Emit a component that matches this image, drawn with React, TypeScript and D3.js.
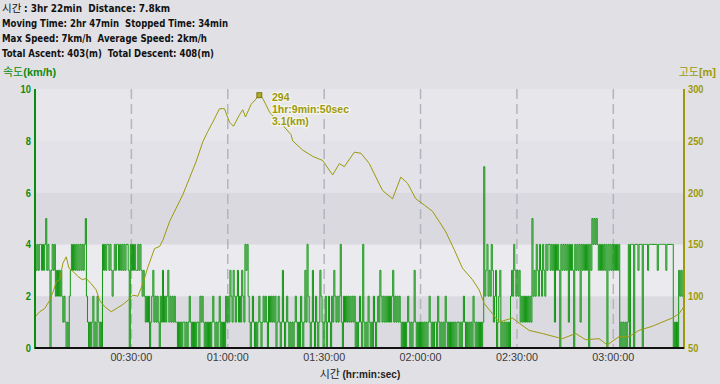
import React from "react";
import * as d3 from "d3";

// ---- data ----
const headerLines = [
  ": 3hr 22min  Distance: 7.8km",
  "Moving Time: 2hr 47min  Stopped Time: 34min",
  "Max Speed: 7km/h  Average Speed: 2km/h",
  "Total Ascent: 403(m)  Total Descent: 408(m)",
];
const headerKo = "시간";
const speedTicks = [0, 2, 4, 6, 8, 10];
const elevTicks = [50, 100, 150, 200, 250, 300];
const timeTicks = [30, 60, 90, 120, 150, 180];
const timeTickLabels = ["00:30:00", "01:00:00", "01:30:00", "02:00:00", "02:30:00", "03:00:00"];
const totalMinutes = 202;
const sampleSeconds = 20;

// speed samples (km/h), one per 20 s
const speed = [
  4,3,4,3,4,4,3,4,3,4,5,3,4,3,0,3,4,3,4,2,
  3,2,3,2,3,2,1,2,1,0,1,0,2,3,4,3,4,3,4,3,
  4,3,4,3,4,3,4,5,2,1,0,1,0,1,2,0,1,0,2,1,
  0,1,0,4,3,4,3,4,4,3,4,3,2,3,4,3,4,4,3,4,
  3,4,3,4,3,4,4,3,0,4,3,4,3,4,3,3,4,3,4,3,
  2,3,2,1,2,1,2,0,1,2,3,1,2,1,2,1,0,2,1,3,
  1,2,1,2,3,1,2,1,2,1,2,1,1,0,1,0,1,0,1,1,
  0,1,0,1,2,1,0,1,0,1,0,1,1,0,2,1,2,1,0,1,
  0,1,0,1,0,1,2,1,0,1,0,1,2,0,1,0,1,0,2,1,
  2,1,3,2,1,3,2,1,2,3,1,2,1,3,2,1,4,3,4,2,
  1,0,1,2,1,0,1,0,1,2,1,0,1,2,1,2,1,0,2,1,
  2,1,2,1,2,0,1,2,1,0,1,3,1,0,1,2,1,0,1,0,
  1,0,1,2,1,0,1,0,2,1,0,1,3,1,4,2,1,0,1,3,
  1,0,2,1,0,1,3,2,1,0,1,2,0,1,2,1,0,2,1,3,
  2,1,2,1,2,4,1,0,2,1,2,1,2,1,2,1,2,1,2,0,
  1,0,1,2,1,0,4,1,0,1,0,2,1,0,1,0,2,1,0,1,
  2,1,3,2,1,2,1,2,1,2,1,2,1,2,3,1,2,1,2,1,
  2,1,0,1,0,1,0,1,2,1,0,1,0,1,3,1,0,1,0,1,
  0,1,0,1,0,1,0,1,2,1,0,1,0,1,1,0,2,1,0,1,
  0,1,0,2,1,0,1,0,1,0,1,0,1,0,1,1,0,1,0,1,
  2,1,0,1,0,1,0,1,0,2,1,0,1,0,1,0,1,0,1,7,
  2,3,4,2,3,2,4,3,1,2,3,0,1,2,3,0,1,0,1,0,
  1,0,1,0,2,3,2,4,3,2,3,2,3,1,2,1,2,1,2,1,
  2,1,2,1,5,2,3,2,4,3,2,4,3,2,4,3,2,4,3,4,
  4,3,4,3,4,1,4,3,4,3,0,4,3,4,3,4,3,4,1,4,
  3,4,3,0,4,3,4,3,4,1,4,3,4,3,4,3,4,0,4,3,
  5,4,5,4,5,4,3,4,3,4,3,4,3,4,0,4,3,4,3,4,
  3,4,3,4,3,4,0,1,0,1,0,1,0,1,4,0,4,4,4,0,
  4,4,4,3,4,4,4,0,4,4,4,4,3,4,4,4,4,4,4,4,
  4,3,4,4,4,4,4,4,4,3,4,4,4,4,4,4,0,1,0,1,
  0,3,2,3,2,3,
];

// elevation profile: time (min) and altitude (m)
const elevTime = [
  0, 1.46, 3.02, 4.57, 5.6, 6.62, 7.68, 8.7, 9.73, 10.57, 11.81, 13.37, 14.7, 15.95, 17.5, 19.06,
  20.1, 21.67, 23.72, 25.27, 27.36, 28.91, 30.47, 32.02, 33.57, 35.13, 37.21, 38.77, 39.8, 41.88,
  43.93, 46.01, 48.09, 50.15, 52.23, 53.78, 55.34, 57.42, 58.97, 60.53, 61.77, 63.64, 64.66, 65.5,
  67.24, 69.83, 70.88, 72.96, 74.52, 77.1, 79.68, 80.2, 83.32, 86.42, 89.53, 92.64, 94.72, 96.28,
  99.39, 101.44, 104.05, 106.1, 108.18, 111.29, 113.87, 115.95, 118.53, 121.15, 123.73, 125.81,
  127.87, 130.48, 133.05, 136.16, 138.25, 139.8, 141.36, 144.47, 148.6, 150.69, 153.79, 157.93,
  161.57, 164.15, 168.28, 171.39, 175.56, 178.14, 181.78, 184.88, 187.99, 192.13, 195.24, 198.35,
  200.43, 202,
];
const elevM = [
  80, 85, 88, 96, 104, 114, 116, 132, 138, 127, 124, 119, 116, 117, 112, 106,
  96, 90, 85, 88, 92, 96, 101, 100, 112, 128, 146, 148, 154, 172,
  185, 198, 214, 230, 249, 259, 268, 281, 281, 268, 264, 275, 280, 273,
  285, 294, 291, 278, 272, 265, 256, 250, 241, 235, 231, 217, 228, 225,
  239, 238, 228, 215, 202, 194, 215, 209, 194, 188, 182, 172,
  162, 145, 127, 116, 106, 93, 87, 75, 79, 74, 67, 64,
  61, 59, 64, 58, 59, 53, 61, 61, 67, 71, 75, 79,
  83, 90,
];
const peakTime = 69.83;
const peakElev = 294;
const peakLabels = ["294", "1hr:9min:50sec", "3.1(km)"];

export default function App() {
  const W = 720, H = 384;
  const left = 35, right = 684, top = 89, bottom = 348;
  const x = d3.scaleLinear().domain([0, totalMinutes]).range([left, right]);
  const yS = d3.scaleLinear().domain([0, 10]).range([bottom, top]);
  const yE = d3.scaleLinear().domain([50, 300]).range([bottom, top]);

  const speedPts = speed.map((v, i) => [(i * sampleSeconds) / 60, v] as [number, number]);
  const speedPath = d3
    .line<[number, number]>()
    .x((d) => x(d[0]))
    .y((d) => yS(d[1]))
    .curve(d3.curveStepAfter)(speedPts) || "";

  const elevPts = elevTime.map((t, i) => [t, elevM[i]] as [number, number]);
  const elevPath = d3
    .line<[number, number]>()
    .x((d) => x(d[0]))
    .y((d) => yE(d[1]))(elevPts) || "";

  const bandFills = ["#dadae0", "#ebebef", "#d9d9df", "#e2e2e8", "#e7e7eb"];
  const bands = [0, 2, 4, 6, 8].map((v, i) => ({ y0: yS(v + 2), y1: yS(v), fill: bandFills[i] }));

  const green = "#0e8a0e";
  const olive = "#9c9a0c";
  const hdrFont = "'DejaVu Sans', sans-serif";
  const headerWidths = [146, 226, 205, 212];
  const px = x(peakTime), py = yE(peakElev);

  return (
    <svg width={W} height={H} style={{ position: "fixed", left: 0, top: 0 }} fontFamily={hdrFont}>
      <rect x={0} y={0} width={W} height={H} fill="#e1e1e5" />
      <text x={2} y={12} fontSize={10.5} fill="#111" fontFamily="'Noto Sans CJK KR'">{headerKo}</text>
      {headerLines.map((l, i) => (
        <text key={i} x={i === 0 ? 24 : 2} y={12 + i * 15} fontSize={11} fontWeight="bold" fill="#111"
          textLength={headerWidths[i]} lengthAdjust="spacingAndGlyphs" style={{ whiteSpace: "pre" }}>
          {l}
        </text>
      ))}
      {bands.map((b, i) => (
        <rect key={i} x={left} y={b.y0} width={right - left} height={b.y1 - b.y0} fill={b.fill} />
      ))}
      {timeTicks.map((t) => (
        <line key={t} x1={x(t)} x2={x(t)} y1={top} y2={bottom} stroke="#b4b4bc" strokeWidth={1.5} strokeDasharray="10,5" />
      ))}
      <path d={speedPath} fill="none" stroke="#129612" strokeWidth={1} />
      <path d={elevPath} fill="none" stroke={olive} strokeWidth={1} />
      <rect x={px - 2.5} y={py - 2.5} width={5} height={5} fill="#b0aa20" stroke="#6a6600" strokeWidth={0.8} />
      {peakLabels.map((s, i) => (
        <text key={i} x={272} y={101 + i * 12} fontSize={10.5} fontWeight="bold" fill={olive} stroke="#f4f4ec" strokeWidth={2.5} paintOrder="stroke" fontFamily="'Liberation Sans', sans-serif">
          {s}
        </text>
      ))}
      {/* axes */}
      <line x1={left} x2={left} y1={top} y2={bottom + 1} stroke={green} strokeWidth={2} />
      <line x1={right} x2={right} y1={top} y2={bottom + 1} stroke={olive} strokeWidth={2} />
      <line x1={left} x2={right} y1={bottom} y2={bottom} stroke="#111" strokeWidth={2} />
      {speedTicks.map((v) => (
        <text key={v} x={31} y={yS(v) + 4} textAnchor="end" fontSize={11} fontWeight="bold" fill={green} fontFamily="'Liberation Sans', sans-serif" transform={`translate(${31 * 0.15},0) scale(0.85,1)`}>
          {v}
        </text>
      ))}
      {elevTicks.map((v) => (
        <text key={v} x={688 / 0.85} y={yE(v) + 4} fontSize={11} fontWeight="bold" fill={olive} fontFamily="'Liberation Sans', sans-serif" transform="scale(0.85,1)">
          {v}
        </text>
      ))}
      <text x={3} y={76} fontSize={11} fill={green}>
        <tspan fontFamily="'Noto Sans CJK KR'">속도</tspan>
        <tspan fontWeight="bold" fontFamily="'Liberation Sans', sans-serif">(km/h)</tspan>
      </text>
      <text x={716} y={76} fontSize={11} fill={olive} textAnchor="end">
        <tspan fontFamily="'Noto Sans CJK KR'">고도</tspan>
        <tspan fontWeight="bold" fontFamily="'Liberation Sans', sans-serif">[m]</tspan>
      </text>
      {timeTicks.map((t, i) => (
        <text key={t} x={x(t)} y={361} textAnchor="middle" fontSize={11} fill="#3a3a3a" fontFamily="'Liberation Sans', sans-serif" textLength={42} lengthAdjust="spacingAndGlyphs">
          {timeTickLabels[i]}
        </text>
      ))}
      <text x={360} y={378} textAnchor="middle" fontSize={11} fill="#222">
        <tspan fontFamily="'Noto Sans CJK KR'">시간 </tspan>
        <tspan fontWeight="bold" fontFamily="'Liberation Sans', sans-serif" fontSize={10}>(hr:min:sec)</tspan>
      </text>
    </svg>
  );
}
